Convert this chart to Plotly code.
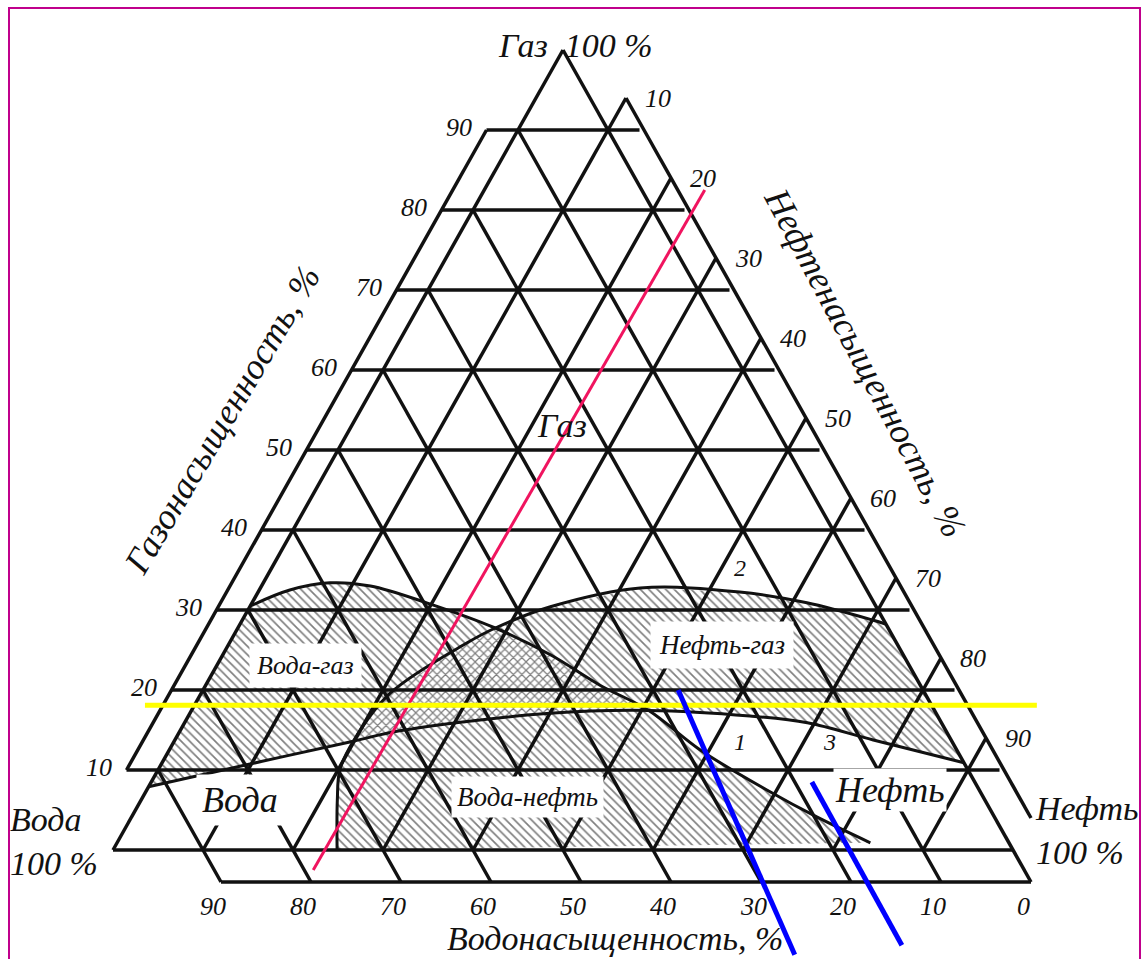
import plotly.graph_objects as go

W, H = 1142, 959
FONT = "Liberation Serif"
INK = "#111111"

# scale ticks, %
gas_ticks = [10, 20, 30, 40, 50, 60, 70, 80, 90]
oil_ticks = [10, 20, 30, 40, 50, 60, 70, 80, 90]
water_ticks = [90, 80, 70, 60, 50, 40, 30, 20, 10, 0]

# boundary curves: gas %, oil %  (water = 100 - gas - oil)
curve1_gas = [30.5, 32.5, 33.4, 33.0, 30.9, 27.75, 24.4, 20.6, 17.45, 12.5, 7.5, 4.1, 0.9]
curve1_oil = [0.0, 3.4, 7.4, 12.1, 19.4, 28.6, 36.4, 43.8, 50.8, 59.0, 68.9, 76.2, 83.7]

curve2_gas = [0.0, 6.25, 10.0, 13.6, 19.6, 25.9, 27.75, 30.4, 32.75, 32.25, 30.9, 28.75, 28.25]
curve2_oil = [24.9, 21.8, 20.2, 19.9, 21.0, 26.4, 28.6, 33.4, 42.2, 53.5, 61.65, 70.0, 71.7]

curve3_gas = [7.9, 10.75, 13.6, 14.9, 17.1, 17.45, 16.75, 15.9, 13.75, 10.9]
curve3_oil = [0.0, 9.85, 19.9, 24.4, 40.0, 50.8, 62.4, 69.2, 77.6, 89.1]

# coloured marker lines drawn over the scan
pink_gas, pink_oil = [-2.5, 82.5], [23.5, 24.5]
yellow_gas, yellow_oil = [18.1, 18.1], [-5.5, 93.6]
blue1_gas, blue1_oil = [20.0, -13.1], [52.8, 82.3]
blue2_gas, blue2_oil = [8.5, -11.9], [73.4, 93.6]

# outward offsets of the scale lines (in % units)
OFF_L, OFF_R, OFF_B = 3.5, 4.0, 4.0


def xy(gas, oil):
    """ternary (gas, oil) -> cartesian: x along the base, y = gas"""
    return [o + g / 2 for g, o in zip(gas, oil)], list(gas)


def seg(gas, oil, xs, ys):
    x, y = xy(gas, oil)
    xs += x + [None]
    ys += y + [None]


def paper(px, py):
    return px / W, 1 - py / H


fig = go.Figure()


def region(gas, oil, shape, solid=0.28):
    x, y = xy(gas, oil)
    fig.add_trace(go.Scatter(
        x=x, y=y, mode="lines", fill="toself", line=dict(width=0),
        fillcolor="white",
        fillpattern=dict(shape=shape, size=6, solidity=solid, fgcolor="#000000", bgcolor="white"),
        hoverinfo="skip", showlegend=False))


# water-gas, oil-gas, water-oil and three-phase areas
region(curve1_gas[:9] + curve3_gas[5::-1], curve1_oil[:9] + curve3_oil[5::-1], "\\")
region(curve2_gas[3:] + curve3_gas[:1:-1], curve2_oil[3:] + curve3_oil[:1:-1], "\\")
region(curve2_gas[:4] + curve3_gas[3:6] + curve1_gas[9:],
       curve2_oil[:4] + curve3_oil[3:6] + curve1_oil[9:], "\\")
region(curve2_gas[3:7] + curve1_gas[6:9] + curve3_gas[4:1:-1],
       curve2_oil[3:7] + curve1_oil[6:9] + curve3_oil[4:1:-1], "x", solid=0.36)

# grid + frame
gx, gy = [], []
for g in gas_ticks:
    seg([g, g], [-OFF_L, 100 + OFF_L - g], gx, gy)
for o in oil_ticks:
    seg([0, 100 + OFF_R - o], [o, o], gx, gy)
for w in water_ticks[:-1]:
    seg([100 - w, -OFF_B], [0, 100 + OFF_B - w], gx, gy)
seg([0, 100], [0, 0], gx, gy)                       # left side
seg([0, 0], [0, 100], gx, gy)                       # base
seg([100, -OFF_B], [0, 100 + OFF_B], gx, gy)        # right side, to bottom scale
seg([gas_ticks[0], gas_ticks[-1]], [-OFF_L, -OFF_L], gx, gy)
seg([100 + OFF_R - oil_ticks[0], OFF_R], [oil_ticks[0], 100], gx, gy)
seg([-OFF_B, -OFF_B], [100 + OFF_B - water_ticks[0], 100 + OFF_B], gx, gy)
fig.add_trace(go.Scatter(x=gx, y=gy, mode="lines", line=dict(color=INK, width=3.5),
                         hoverinfo="skip", showlegend=False))

for cg, co in [(curve1_gas, curve1_oil), (curve2_gas, curve2_oil), (curve3_gas, curve3_oil)]:
    x, y = xy(cg, co)
    fig.add_trace(go.Scatter(x=x, y=y, mode="lines", line=dict(color=INK, width=3, shape="spline"),
                             hoverinfo="skip", showlegend=False))

for lg, lo, col, wd in [(pink_gas, pink_oil, "#f0145f", 3),
                        (yellow_gas, yellow_oil, "#ffff00", 5),
                        (blue1_gas, blue1_oil, "#0000ff", 5),
                        (blue2_gas, blue2_oil, "#0000ff", 5)]:
    x, y = xy(lg, lo)
    fig.add_trace(go.Scatter(x=x, y=y, mode="lines", line=dict(color=col, width=wd),
                             hoverinfo="skip", showlegend=False))


def label(text, gas, oil, size, bg=None, pad=4, **kw):
    x, y = xy([gas], [oil])
    fig.add_annotation(x=x[0], y=y[0], text=text, showarrow=False,
                       font=dict(family=FONT, size=size, color=INK, style="italic"),
                       bgcolor=bg, borderpad=pad, **kw)


# scale labels
for g in gas_ticks:
    label(str(g), g, -OFF_L, 26, xanchor="right", xshift=-10, yshift=3)
for o in oil_ticks:
    label(str(o), 100 + OFF_R - o, o, 26, xanchor="left", xshift=14)
for w in water_ticks:
    label(str(w), -OFF_B, 100 + OFF_B - w, 26, yanchor="top", xshift=-8, yshift=-5)

# area names
label("Газ", 53.1, 23.3, 34)
label("Вода-газ", 23.1, 9.8, 26, bg="white", pad=7)
label("Нефть-газ", 25.6, 54.9, 27, bg="white", pad=8)
label("Вода-нефть", 6.6, 42.7, 27, bg="white", pad=5)
label("Вода", 6.25, 11.0, 36, bg="white", pad=5)
label("Нефть", 7.5, 82.6, 36, bg="white", pad=1)
label("1", 13.5, 62.9, 24)
label("2", 35.25, 52.0, 24)
label("3", 13.5, 72.9, 24)


def title(text, px, py, size=34, angle=0, **kw):
    x, y = paper(px, py)
    fig.add_annotation(x=x, y=y, xref="paper", yref="paper", text=text, showarrow=False,
                       textangle=angle, font=dict(family=FONT, size=size, color=INK, style="italic"), **kw)


title("Газ&nbsp;&nbsp;100 %", 575, 25)
title("Газонасыщенность, %", 222, 420, size=36, angle=-59.5, xanchor="center", yanchor="middle")
title("Нефтенасыщенность, %", 865, 362, size=36, angle=62, xanchor="center", yanchor="middle")
title("Водонасыщенность, %", 615, 938, size=34, xanchor="center", yanchor="middle")
title("Вода<br>100 %", 8, 841, align="left", xanchor="left", yanchor="middle")
title("Нефть<br>100 %", 1033, 830, align="left", xanchor="left", yanchor="middle")

fig.add_shape(type="rect", xref="paper", yref="paper",
              x0=9 / W, x1=1140 / W, y0=-0.05, y1=1 - 8 / H,
              line=dict(color="#c0008c", width=2))

fig.update_layout(
    width=W, height=H, margin=dict(l=0, r=0, t=0, b=0),
    paper_bgcolor="white", plot_bgcolor="white",
    xaxis=dict(range=[-113 / 9, (W - 113) / 9], visible=False, fixedrange=True),
    yaxis=dict(range=[-(H - 850) / 8, 850 / 8], visible=False, fixedrange=True),
)
fig.write_html("out.html", config={"displayModeBar": False},
               post_script="document.body.style.margin='0px';")
